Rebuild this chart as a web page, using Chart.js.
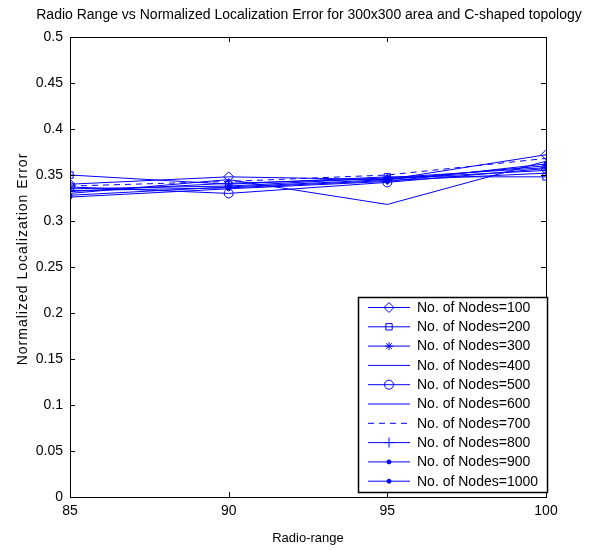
<!DOCTYPE html>
<html>
<head>
<meta charset="utf-8">
<script src="https://cdn.jsdelivr.net/npm/chart.js@4/dist/chart.umd.min.js"></script>
<style>
  html, body { margin: 0; padding: 0; background: #fff; }
  #wrap { width: 591px; height: 550px; }
</style>
</head>
<body>
<div id="wrap"><canvas id="chart" width="591" height="550"></canvas></div>
<script>
const chartTitle = "Radio Range vs Normalized Localization Error for 300x300 area and C-shaped topology"
const yTitle = "Normalized Localization Error"
const xTitle = "Radio-range"
const radioRange = [85, 90, 95, 100]
const seriesLabels = ["No. of Nodes=100", "No. of Nodes=200", "No. of Nodes=300", "No. of Nodes=400", "No. of Nodes=500",
                      "No. of Nodes=600", "No. of Nodes=700", "No. of Nodes=800", "No. of Nodes=900", "No. of Nodes=1000"]

// error values, one array per node count
const nodes100  = [0.340, 0.348, 0.345, 0.372]
const nodes200  = [0.350, 0.340, 0.348, 0.348]
const nodes300  = [0.335, 0.338, 0.347, 0.358]
const nodes400  = [0.330, 0.345, 0.318, 0.365]
const nodes500  = [0.337, 0.330, 0.342, 0.357]
const nodes600  = [0.333, 0.336, 0.344, 0.352]
const nodes700  = [0.338, 0.343, 0.350, 0.368]
const nodes800  = [0.332, 0.341, 0.346, 0.355]
const nodes900  = [0.328, 0.337, 0.345, 0.360]
const nodes1000 = [0.326, 0.335, 0.343, 0.362]
const seriesValues = [nodes100, nodes200, nodes300, nodes400, nodes500, nodes600, nodes700, nodes800, nodes900, nodes1000]

const yTicks = [0, 0.05, 0.1, 0.15, 0.2, 0.25, 0.3, 0.35, 0.4, 0.45, 0.5]
const xTicks = [85, 90, 95, 100]

const FONT = "'Liberation Sans', Arial, sans-serif"
const BLUE = "#0000ff"

// marker per series (matlab style)
const markers = [
    { style: "rectRot", radius: 5, fill: false },
    { style: "rect", radius: 4.5, fill: false },
    { style: "star", radius: 4, fill: false },
    { style: false, radius: 0, fill: false },
    { style: "circle", radius: 4.5, fill: false },
    { style: false, radius: 0, fill: false },
    { style: false, radius: 0, fill: false, dash: [6, 5] },
    { style: "cross", radius: 5, fill: false },
    { style: "circle", radius: 2, fill: true },
    { style: "circle", radius: 2, fill: true }
]

function buildDatasets() {
    return seriesValues.map((vals, i) => {
        const m = markers[i]
        return {
            label: seriesLabels[i],
            data: vals.map((v, j) => ({ x: radioRange[j], y: v })),
            borderColor: BLUE,
            borderWidth: 1,
            borderDash: m.dash || [],
            backgroundColor: m.fill ? BLUE : "rgba(0,0,0,0)",
            pointStyle: m.style,
            pointRadius: m.radius,
            pointBorderColor: BLUE,
            pointBackgroundColor: m.fill ? BLUE : "rgba(0,0,0,0)",
            pointBorderWidth: 1,
            tension: 0,
            fill: false
        }
    })
}

function matlabFramePlugin() {
    return {
        id: "matlabFrame",
        afterDraw: (chart) => {
            const { ctx, chartArea: a, scales } = chart
            ctx.save()
            ctx.strokeStyle = "#000"
            ctx.lineWidth = 1

            // inward ticks
            const len = 5
            ctx.beginPath()
            yTicks.forEach(t => {
                const y = Math.round(scales.y.getPixelForValue(t)) + 0.5
                ctx.moveTo(a.left, y); ctx.lineTo(a.left + len, y)
                ctx.moveTo(a.right, y); ctx.lineTo(a.right - len, y)
            })
            xTicks.forEach(t => {
                const x = Math.round(scales.x.getPixelForValue(t)) + 0.5
                ctx.moveTo(x, a.bottom); ctx.lineTo(x, a.bottom - len)
                ctx.moveTo(x, a.top); ctx.lineTo(x, a.top + len)
            })
            ctx.stroke()
            ctx.strokeRect(Math.round(a.left) + 0.5, Math.round(a.top) + 0.5,
                           Math.round(a.right - a.left), Math.round(a.bottom - a.top))

            // title
            ctx.fillStyle = "#000"
            ctx.font = "14px " + FONT
            ctx.textAlign = "center"
            ctx.textBaseline = "middle"
            ctx.fillText(chartTitle, 309, 15)

            // y title, spaced out like the original
            ctx.save()
            ctx.translate(23, 259)
            ctx.rotate(-Math.PI / 2)
            ctx.font = "14px " + FONT
            ctx.letterSpacing = "1px"
            ctx.fillText(yTitle, 0, 0)
            ctx.restore()

            // legend inside the axes, lower right
            const box = { left: 358, top: 297, right: 547, bottom: 492 }
            ctx.fillStyle = "#fff"
            ctx.fillRect(box.left, box.top, box.right - box.left, box.bottom - box.top)
            ctx.strokeStyle = "#000"
            ctx.lineWidth = 1.5
            ctx.strokeRect(box.left + 0.5, box.top + 0.5, box.right - box.left, box.bottom - box.top)

            const rowH = 19.3
            chart.data.datasets.forEach((ds, i) => {
                const y = box.top + 10 + rowH * i
                const x0 = box.left + 10, x1 = box.left + 52
                ctx.strokeStyle = BLUE
                ctx.lineWidth = 1
                ctx.setLineDash(ds.borderDash || [])
                ctx.beginPath()
                ctx.moveTo(x0, y + 0.5); ctx.lineTo(x1, y + 0.5)
                ctx.stroke()
                ctx.setLineDash([])
                if (ds.pointStyle) {
                    ctx.fillStyle = ds.pointBackgroundColor
                    ctx.strokeStyle = BLUE
                    Chart.helpers.drawPoint(ctx, {
                        pointStyle: ds.pointStyle,
                        radius: ds.pointRadius,
                        borderWidth: 1,
                        rotation: 0
                    }, (x0 + x1) / 2, y + 0.5)
                }
                ctx.fillStyle = "#000"
                ctx.font = "14px " + FONT
                ctx.textAlign = "left"
                ctx.textBaseline = "middle"
                ctx.fillText(ds.label, box.left + 59, y + 1)
            })
            ctx.restore()
        }
    }
}

const canvas = document.getElementById("chart")
new Chart(canvas.getContext("2d"), {
    type: "line",
    data: { datasets: buildDatasets() },
    options: {
        responsive: false,
        animation: false,
        layout: { padding: { top: 37, right: 45, left: 0, bottom: 0 } },
        plugins: {
            legend: { display: false },
            title: { display: false },
            tooltip: { enabled: false }
        },
        scales: {
            x: {
                type: "linear",
                min: 85,
                max: 100,
                afterBuildTicks: (scale) => { scale.ticks = xTicks.map(v => ({ value: v })) },
                afterFit: (scale) => { scale.height = 53 },
                grid: { display: false, drawTicks: false },
                border: { display: false },
                ticks: { color: "#000", font: { size: 14, family: FONT }, padding: 6, maxRotation: 0 },
                title: { display: true, text: xTitle, color: "#000", font: { size: 13, family: FONT }, padding: { top: 4 } }
            },
            y: {
                min: 0,
                max: 0.5,
                afterBuildTicks: (scale) => { scale.ticks = yTicks.map(v => ({ value: v })) },
                afterFit: (scale) => { scale.width = 70 },
                grid: { display: false, drawTicks: false },
                border: { display: false },
                ticks: {
                    color: "#000", font: { size: 14, family: FONT }, padding: 7,
                    callback: (v) => String(Number(v.toFixed(2)))
                },
                title: { display: false }
            }
        }
    },
    plugins: [matlabFramePlugin()]
})
</script>
</body>
</html>
